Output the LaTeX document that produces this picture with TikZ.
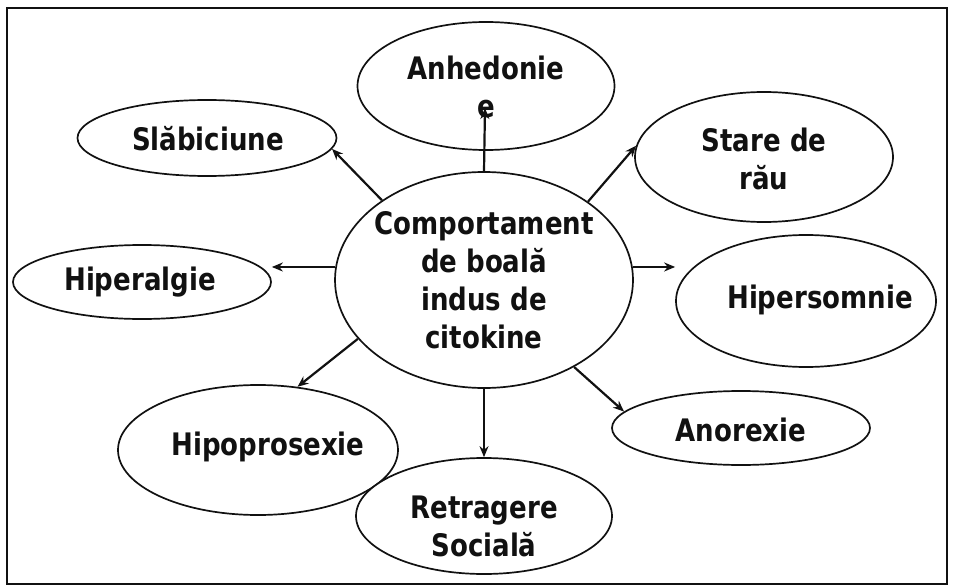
\documentclass[tikz,border=0pt]{standalone}
\usepackage{fontspec}
\usepackage{tikz}
\usetikzlibrary{arrows.meta, positioning, shapes.geometric, calc}
\newfontfamily\bubblefont{DejaVu Sans}[FakeStretch=0.84]
\definecolor{cdark}{HTML}{111111}

\begin{document}
\begin{tikzpicture}[
    x=1pt, y=-1pt,
    >={Stealth[length=11pt, width=9pt]},
    bubble/.style={
        ellipse, draw=cdark, line width=1.7pt, inner sep=0pt, fill=white
    },
    btext/.style={
        font=\bubblefont\bfseries\fontsize{31}{38}\selectfont,
        align=center, text=cdark, inner sep=0pt
    },
    arr/.style={->, line width=2.2pt, draw=cdark},
]

\useasboundingbox (0,0) rectangle (955,588);

% =====================================================================
% Frame
% =====================================================================
\draw[line width=2.6pt, draw=cdark] (7,8) rectangle (947,584);

% =====================================================================
% Bubbles (centre + eight symptoms around it)
% =====================================================================
\node[bubble, minimum width=298, minimum height=216] (core)  at (484,280) {};
\node[bubble, minimum width=257, minimum height=128] (anhed) at (486, 86) {};
\node[bubble, minimum width=259, minimum height=76]  (slab)  at (207,138) {};
\node[bubble, minimum width=258, minimum height=130] (stare) at (764,157) {};
\node[bubble, minimum width=258, minimum height=74]  (hiper) at (142,282) {};
\node[bubble, minimum width=260, minimum height=132] (hsomn) at (806,301) {};
\node[bubble, minimum width=280, minimum height=130] (hipop) at (258,450) {};
\node[bubble, minimum width=256, minimum height=116] (retr)  at (484,516) {};
\node[bubble, minimum width=258, minimum height=74]  (anor)  at (741,428) {};

% --- free end of the upward arrow (tip sits under the stray "e") -----
\coordinate (anhtip) at (485,108);

% =====================================================================
% Arrows out of the centre
% =====================================================================
\draw[arr] (core.north) -- (anhtip);
\draw[arr] (core.142)   -- (slab.-5);
\draw[arr] (core.37)    -- (stare.175);
\draw[arr] (core.175)   -- (core.175 -| hiper.east);
\draw[arr] (core.5)     -- (core.5 -| hsomn.west);
\draw[arr] (core.205)   -- (hipop.58);
\draw[arr, line width=1.5pt] (core.south) -- (retr.north);
\draw[arr] (core.-44)   -- (anor.172);

% =====================================================================
% Texts
% =====================================================================
\node[btext] (core-t)  at (core)  {Comportament\\de boal\u{a}\\indus de\\citokine};
\node[btext] (anhed-t) at (486,87) {Anhedonie\\e};
\node[btext] (slab-t)  at (208,139) {Sl\u{a}biciune};
\node[btext] (stare-t) at (764,159) {Stare de\\r\u{a}u};
\node[btext] (hiper-t) at (140,282) {Hiperalgie};
\node[btext] (hsomn-t) at (820,300) {Hipersomnie};
\node[btext] (hipop-t) at (268,447) {Hipoprosexie};
\node[btext] (retr-t)  at (484,526) {Retragere\\Social\u{a}};
\node[btext] (anor-t)  at (741,430) {Anorexie};

\end{tikzpicture}
\end{document}
